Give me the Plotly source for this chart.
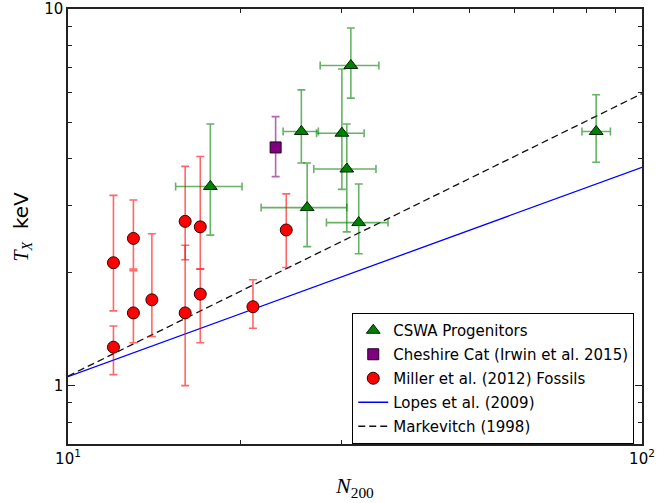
import plotly.graph_objects as go
import math

# CSWA Progenitors
cswa_n = [17.7, 25.5, 31.1, 30.0, 30.6, 26.1, 32.1, 83.2]
cswa_n_lo = [15.4, 23.7, 27.5, 27.1, 26.8, 21.7, 28.2, 78.6]
cswa_n_hi = [20.1, 27.3, 34.8, 32.8, 34.4, 30.6, 36.1, 88.1]
cswa_t = [3.38, 4.73, 7.08, 4.68, 3.76, 2.97, 2.71, 4.73]
cswa_t_lo = [2.51, 3.90, 5.80, 3.32, 2.56, 2.34, 2.24, 3.92]
cswa_t_hi = [4.95, 6.10, 8.90, 6.93, 4.95, 3.90, 3.43, 5.92]

# Cheshire Cat
cc_n = [23.0]
cc_t = [4.29]
cc_t_lo = [3.59]
cc_t_hi = [5.18]

# Miller et al. (2012) fossils
mil_n = [12.0, 13.0, 13.0, 12.0, 14.0, 16.0, 16.0, 17.0, 17.0, 21.0, 24.0]
mil_t = [2.12, 2.46, 1.56, 1.265, 1.69, 2.73, 1.56, 2.64, 1.75, 1.62, 2.59]
mil_t_lo = [1.58, 2.04, 1.30, 1.07, 1.35, 2.16, 1.00, 2.04, 1.30, 1.42, 2.06]
mil_t_hi = [3.20, 3.11, 2.02, 1.44, 2.53, 3.82, 2.36, 4.06, 2.04, 1.91, 3.23]

# Relations (end points)
rel_n = [10, 100]
lopes_t = [1.056, 3.80]
mark_t = [1.06, 5.96]

x_ticks = [10, 100]
x_ticktext = ["10<sup>1</sup>", "10<sup>2</sup>"]
y_ticks = [1, 10]
y_ticktext = ["1", "10"]
x_minor = [20, 30, 40, 50, 60, 70, 80, 90]
y_minor = [0.7, 0.8, 0.9, 2, 3, 4, 5, 6, 7, 8, 9]

def minus(v, lo):
    return [a - b for a, b in zip(v, lo)]

def plus(v, hi):
    return [b - a for a, b in zip(v, hi)]

fig = go.Figure()

fig.add_trace(go.Scatter(
    x=rel_n, y=lopes_t, mode="lines", name="Lopes et al. (2009)",
    line=dict(color="#0000ff", width=1.3), legendrank=4, legendgroup="d"))
fig.add_trace(go.Scatter(
    x=rel_n, y=mark_t, mode="lines", name="Markevitch (1998)",
    line=dict(color="#111111", width=1.3, dash="7px,4px"), legendrank=5, legendgroup="e"))

fig.add_trace(go.Scatter(
    x=mil_n, y=mil_t, mode="markers", name="Miller et al. (2012) Fossils",
    marker=dict(symbol="circle", size=12, color="#ff0000",
                line=dict(color="#330000", width=1)),
    error_y=dict(type="data", symmetric=False, array=plus(mil_t, mil_t_hi),
                 arrayminus=minus(mil_t, mil_t_lo), color="rgba(255,0,0,0.6)",
                 thickness=1.6, width=4),
    legendrank=3, legendgroup="c"))

fig.add_trace(go.Scatter(
    x=cc_n, y=cc_t, mode="markers", name="Cheshire Cat (Irwin et al. 2015)",
    marker=dict(symbol="square", size=11, color="#800080",
                line=dict(color="#220022", width=1)),
    error_y=dict(type="data", symmetric=False, array=plus(cc_t, cc_t_hi),
                 arrayminus=minus(cc_t, cc_t_lo), color="rgba(128,0,128,0.6)",
                 thickness=1.6, width=4),
    legendrank=2, legendgroup="b"))

fig.add_trace(go.Scatter(
    x=cswa_n, y=cswa_t, mode="markers", name="CSWA Progenitors",
    marker=dict(symbol="triangle-up", size=12, color="#008000",
                line=dict(color="#002200", width=1)),
    error_y=dict(type="data", symmetric=False, array=plus(cswa_t, cswa_t_hi),
                 arrayminus=minus(cswa_t, cswa_t_lo), color="rgba(0,128,0,0.6)",
                 thickness=1.6, width=4),
    error_x=dict(type="data", symmetric=False, array=plus(cswa_n, cswa_n_hi),
                 arrayminus=minus(cswa_n, cswa_n_lo), color="rgba(0,128,0,0.6)",
                 thickness=1.6, width=4),
    legendrank=1, legendgroup="a"))

axis_common = dict(
    showgrid=False, zeroline=False, showline=True, linecolor="#222222",
    linewidth=1.5, mirror="ticks", ticks="inside", ticklen=7, tickwidth=1,
    tickcolor="#222222", tickfont=dict(family="DejaVu Sans", size=15, color="black"),
    tickmode="array", automargin=False,
)

L, R, T, B = 68.3, 641.7, 9.3, 444.0
W, H = 671, 503

fig.update_layout(
    width=W, height=H,
    margin=dict(l=L, r=W - R, t=T, b=H - B, autoexpand=False),
    paper_bgcolor="white", plot_bgcolor="white",
    font=dict(family="DejaVu Sans", size=15, color="black"),
    showlegend=True,
    legend=dict(
        x=0.9865, y=0.0, xanchor="right", yanchor="bottom",
        bordercolor="black", borderwidth=1, bgcolor="white",
        font=dict(family="DejaVu Sans", size=15, color="black"),
        tracegroupgap=1.5,
    ),
    xaxis=dict(
        type="log", range=[1, 2], tickvals=x_ticks, ticktext=x_ticktext,
        minor=dict(tickmode="array", tickvals=x_minor, ticks="inside", ticklen=4,
                   tickcolor="#222222"),
        **axis_common,
    ),
    yaxis=dict(
        type="log", range=[math.log10(0.7), 1], tickvals=y_ticks, ticktext=y_ticktext,
        minor=dict(tickmode="array", tickvals=y_minor, ticks="inside", ticklen=4,
                   tickcolor="#222222"),
        **axis_common,
    ),
    annotations=[
        dict(text='<span style="font-family:Liberation Serif"><i>N</i><sub>200</sub></span>',
             xref="paper", yref="paper",
             x=(355 - L) / (R - L), y=-(487 - B) / (B - T),
             xanchor="center", yanchor="middle", showarrow=False,
             font=dict(size=22, color="black")),
        dict(text='<span style="font-family:Liberation Serif"><i>T</i><sub><i>X</i></sub></span>  keV',
             xref="paper", yref="paper",
             x=-(L - 22) / (R - L), y=(B - 227) / (B - T),
             xanchor="center", yanchor="middle", showarrow=False, textangle=-90,
             font=dict(size=20, color="black")),
    ],
)

fig.write_html(
    "out.html",
    config={"displayModeBar": False},
    post_script="document.body.style.margin='0';document.body.style.padding='0';",
)
